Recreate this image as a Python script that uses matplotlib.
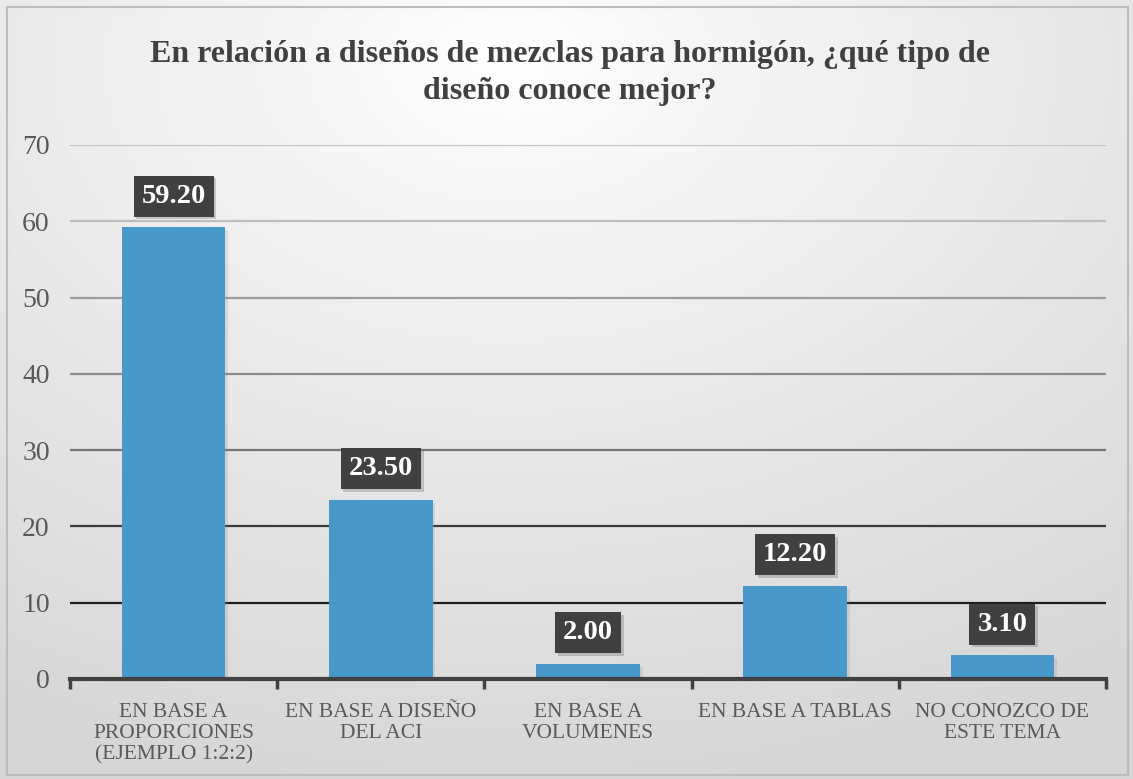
import numpy as np
import matplotlib
matplotlib.use("Agg")
import matplotlib.pyplot as plt
from matplotlib.patches import Rectangle
import matplotlib.patheffects as pe

categories = ["EN BASE A\nPROPORCIONES\n(EJEMPLO 1:2:2)", "EN BASE A DISEÑO\nDEL ACI",
              "EN BASE A\nVOLUMENES", "EN BASE A TABLAS", "NO CONOZCO DE\nESTE TEMA"]
values = [59.20, 23.50, 2.00, 12.20, 3.10]
yticks = [0, 10, 20, 30, 40, 50, 60, 70]
grid_colors = {10: "#1e1e1e", 20: "#3a3a3a", 30: "#757575", 40: "#8c8c8c",
               50: "#9c9c9c", 60: "#bdbdbd", 70: "#c4c4c4"}
title = "En relación a diseños de mezclas para hormigón, ¿qué tipo de\ndiseño conoce mejor?"

plt.rcParams['font.family'] = ['Liberation Serif', 'DejaVu Serif']

W, H = 1133, 779
fig = plt.figure(figsize=(W / 100, H / 100), dpi=100)

# background gradient
bg = fig.add_axes([0, 0, 1, 1], zorder=-10)
yy, xx = np.mgrid[0:H, 0:W]
cx, cy = 0.45 * W, 0.08 * H
r = np.sqrt(((xx - cx) / W) ** 2 + ((yy - cy) / H) ** 2 * 1.0)
r = np.clip(r / 0.95, 0, 1)
val = 1.0 - 0.16 * r ** 0.9
img = np.dstack([val, val, val])
bg.imshow(img, aspect='auto', extent=[0, 1, 0, 1], origin='upper')
bg.set_axis_off()
bg.set_xlim(0, 1)
bg.set_ylim(0, 1)
bg.add_patch(Rectangle((7 / W, 4 / H), (W - 12) / W, (H - 11) / H, fill=False,
                       edgecolor="#bdbdbd", linewidth=1.5, transform=bg.transAxes))

ax = fig.add_axes([70 / W, 1 - 679 / H, (1106 - 70) / W, (679 - 145) / H])
ax.set_facecolor('none')
x = np.arange(len(categories))
shadow = [pe.SimplePatchShadow(offset=(2, -2), shadow_rgbFace='#8a8a8a', alpha=0.2), pe.Normal()]
bars = ax.bar(x, values, width=0.5, color="#4899C9", zorder=3)
for b in bars:
    b.set_path_effects(shadow)

ax.set_xlim(-0.5, len(categories) - 0.5)
ax.set_ylim(0, 70)
ax.set_yticks(yticks)
ax.set_yticklabels([str(v) for v in yticks], fontsize=20, color="#595959")
for v in yticks[1:]:
    ax.axhline(v, color=grid_colors[v], linewidth=1.6, zorder=1)

ax.set_xticks(x)
ax.set_xticklabels(categories, fontsize=15.5, color="#595959", linespacing=1.15)
ax.tick_params(axis='x', length=0, pad=17)
ax.set_xticks(np.arange(-0.5, len(categories)), minor=True)
ax.tick_params(axis='x', which='minor', length=7, width=2.5, color="#404040", direction='out')
ax.tick_params(axis='y', length=0, pad=14.5)
for s in ['top', 'right', 'left']:
    ax.spines[s].set_visible(False)
ax.spines['bottom'].set_color("#404040")
ax.spines['bottom'].set_linewidth(3)
ax.spines['bottom'].set_zorder(5)

for xi, v in zip(x, values):
    t = ax.annotate(f"{v:.2f}", (xi, v), xytext=(0, 22.5), textcoords='offset points',
                    ha='center', va='center', fontsize=20.5, fontweight='bold', color='white',
                    bbox=dict(boxstyle='square,pad=0.28', facecolor='#404040', edgecolor='none'),
                    zorder=6)
    t.get_bbox_patch().set_path_effects([pe.SimplePatchShadow(offset=(2, -2), shadow_rgbFace='#777777', alpha=0.35), pe.Normal()])

fig.text(0.503, 1 - 73 / H, title, ha='center', va='center', fontsize=23,
         fontweight='bold', color="#404040", linespacing=1.38)

fig.savefig("out.png", dpi=100)
